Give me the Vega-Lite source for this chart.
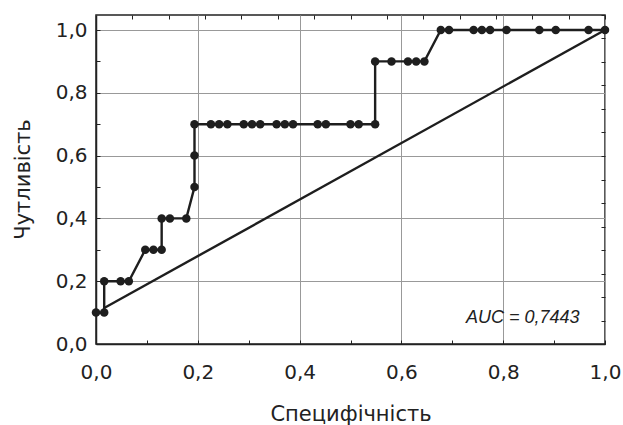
{
  "$schema": "https://vega.github.io/schema/vega-lite/v6.json",
  "width": 509,
  "height": 329,
  "autosize": {"type": "none"},
  "padding": {"left": 96, "top": 15, "right": 18, "bottom": 81},
  "background": "white",
  "config": {
    "font": "DejaVu Sans",
    "view": {"stroke": "#222222", "strokeWidth": 1.5},
    "axis": {
      "domainColor": "#222222",
      "domainWidth": 1.5,
      "tickColor": "#222222",
      "tickWidth": 1,
      "tickSize": -4,
      "labelColor": "#222222",
      "labelFont": "DejaVu Sans",
      "labelFontSize": 20,
      "titleColor": "#222222",
      "titleFont": "DejaVu Sans",
      "titleFontSize": 21,
      "titleFontWeight": "normal",
      "gridColor": "#999999",
      "gridWidth": 1
    }
  },
  "datasets": {
    "roc": [
      {"i": 1, "spec": 0.0, "sens": 0.1},
      {"i": 2, "spec": 0.0161, "sens": 0.1},
      {"i": 3, "spec": 0.0161, "sens": 0.2},
      {"i": 4, "spec": 0.0484, "sens": 0.2},
      {"i": 5, "spec": 0.0645, "sens": 0.2},
      {"i": 6, "spec": 0.0968, "sens": 0.3},
      {"i": 7, "spec": 0.1129, "sens": 0.3},
      {"i": 8, "spec": 0.129, "sens": 0.3},
      {"i": 9, "spec": 0.129, "sens": 0.4},
      {"i": 10, "spec": 0.1452, "sens": 0.4},
      {"i": 11, "spec": 0.1774, "sens": 0.4},
      {"i": 12, "spec": 0.1935, "sens": 0.5},
      {"i": 13, "spec": 0.1935, "sens": 0.6},
      {"i": 14, "spec": 0.1935, "sens": 0.7},
      {"i": 15, "spec": 0.2258, "sens": 0.7},
      {"i": 16, "spec": 0.2419, "sens": 0.7},
      {"i": 17, "spec": 0.2581, "sens": 0.7},
      {"i": 18, "spec": 0.2903, "sens": 0.7},
      {"i": 19, "spec": 0.3065, "sens": 0.7},
      {"i": 20, "spec": 0.3226, "sens": 0.7},
      {"i": 21, "spec": 0.3548, "sens": 0.7},
      {"i": 22, "spec": 0.371, "sens": 0.7},
      {"i": 23, "spec": 0.3871, "sens": 0.7},
      {"i": 24, "spec": 0.4355, "sens": 0.7},
      {"i": 25, "spec": 0.4516, "sens": 0.7},
      {"i": 26, "spec": 0.5, "sens": 0.7},
      {"i": 27, "spec": 0.5161, "sens": 0.7},
      {"i": 28, "spec": 0.5484, "sens": 0.7},
      {"i": 29, "spec": 0.5484, "sens": 0.9},
      {"i": 30, "spec": 0.5806, "sens": 0.9},
      {"i": 31, "spec": 0.6129, "sens": 0.9},
      {"i": 32, "spec": 0.629, "sens": 0.9},
      {"i": 33, "spec": 0.6452, "sens": 0.9},
      {"i": 34, "spec": 0.6774, "sens": 1.0},
      {"i": 35, "spec": 0.6935, "sens": 1.0},
      {"i": 36, "spec": 0.7419, "sens": 1.0},
      {"i": 37, "spec": 0.7581, "sens": 1.0},
      {"i": 38, "spec": 0.7742, "sens": 1.0},
      {"i": 39, "spec": 0.8065, "sens": 1.0},
      {"i": 40, "spec": 0.871, "sens": 1.0},
      {"i": 41, "spec": 0.9032, "sens": 1.0},
      {"i": 42, "spec": 0.9677, "sens": 1.0},
      {"i": 43, "spec": 1.0, "sens": 1.0}
    ],
    "reference": [
      {"spec": 0.0161, "sens": 0.1145},
      {"spec": 1.0, "sens": 1.0}
    ],
    "note": [
      {"spec": 0.95, "sens": 0.066, "label": "AUC = 0,7443"}
    ]
  },
  "resolve": {"axis": {"x": "independent", "y": "independent"}},
  "layer": [
    {
      "data": {"name": "reference"},
      "mark": {"type": "line", "color": "#1e1e1e", "strokeWidth": 2.4},
      "encoding": {
        "x": {
          "field": "spec", "type": "quantitative",
          "scale": {"domain": [0, 1], "nice": false, "zero": false},
          "axis": {
            "orient": "top", "title": null, "labels": false, "domain": false, "grid": false,
            "values": [0, 0.0714, 0.1429, 0.2143, 0.2857, 0.3571, 0.4286, 0.5, 0.5714, 0.6429, 0.7143, 0.7857, 0.8571, 0.9286, 1]
          }
        },
        "y": {
          "field": "sens", "type": "quantitative",
          "scale": {"domain": [0, 1.0478], "nice": false, "zero": false},
          "axis": {
            "orient": "right", "title": null, "labels": false, "domain": false, "grid": false,
            "values": [0, 0.0748, 0.1497, 0.2245, 0.2994, 0.3742, 0.4491, 0.5239, 0.5987, 0.6736, 0.7484, 0.8233, 0.8981, 0.973, 1.0478]
          }
        }
      }
    },
    {
      "data": {"name": "roc"},
      "mark": {"type": "line", "color": "#1e1e1e", "strokeWidth": 2.4},
      "encoding": {
        "x": {
          "field": "spec", "type": "quantitative",
          "scale": {"domain": [0, 1], "nice": false, "zero": false},
          "axis": {
            "orient": "bottom",
            "title": "Специфічність",
            "values": [0, 0.1, 0.2, 0.3, 0.4, 0.5, 0.6, 0.7, 0.8, 0.9, 1.0],
            "labelExpr": "round(datum.value * 10) % 2 == 0 ? replace(format(datum.value, '.1f'), '.', ',') : ''",
            "labelPadding": 22,
            "labelFlush": false,
            "labelOverlap": false,
            "grid": true,
            "gridOpacity": {"condition": {"test": "round(datum.value * 10) % 2 == 0", "value": 1}, "value": 0},
            "titleBaseline": "alphabetic",
            "titleX": 254.5,
            "titleY": 76
          }
        },
        "y": {
          "field": "sens", "type": "quantitative",
          "scale": {"domain": [0, 1.0478], "nice": false, "zero": false},
          "axis": {
            "orient": "left",
            "title": "Чутливість",
            "values": [0, 0.1, 0.2, 0.3, 0.4, 0.5, 0.6, 0.7, 0.8, 0.9, 1.0],
            "labelExpr": "round(datum.value * 10) % 2 == 0 ? replace(format(datum.value, '.1f'), '.', ',') : ''",
            "labelPadding": 13,
            "labelFlush": false,
            "labelOverlap": false,
            "grid": true,
            "gridOpacity": {"condition": {"test": "round(datum.value * 10) % 2 == 0", "value": 1}, "value": 0},
            "titleBaseline": "alphabetic",
            "titleAngle": 270,
            "titleX": -67,
            "titleY": 164
          }
        },
        "order": {"field": "i", "type": "quantitative"}
      }
    },
    {
      "data": {"name": "roc"},
      "mark": {"type": "circle", "color": "#1e1e1e", "opacity": 1, "size": 72},
      "encoding": {
        "x": {"field": "spec", "type": "quantitative", "scale": {"domain": [0, 1], "nice": false, "zero": false}, "axis": null},
        "y": {"field": "sens", "type": "quantitative", "scale": {"domain": [0, 1.0478], "nice": false, "zero": false}, "axis": null}
      }
    },
    {
      "data": {"name": "note"},
      "mark": {"type": "text", "font": "Liberation Sans", "fontStyle": "italic", "fontSize": 18, "align": "right", "baseline": "alphabetic", "color": "#222222"},
      "encoding": {
        "x": {"field": "spec", "type": "quantitative", "scale": {"domain": [0, 1], "nice": false, "zero": false}, "axis": null},
        "y": {"field": "sens", "type": "quantitative", "scale": {"domain": [0, 1.0478], "nice": false, "zero": false}, "axis": null},
        "text": {"field": "label"}
      }
    }
  ]
}
